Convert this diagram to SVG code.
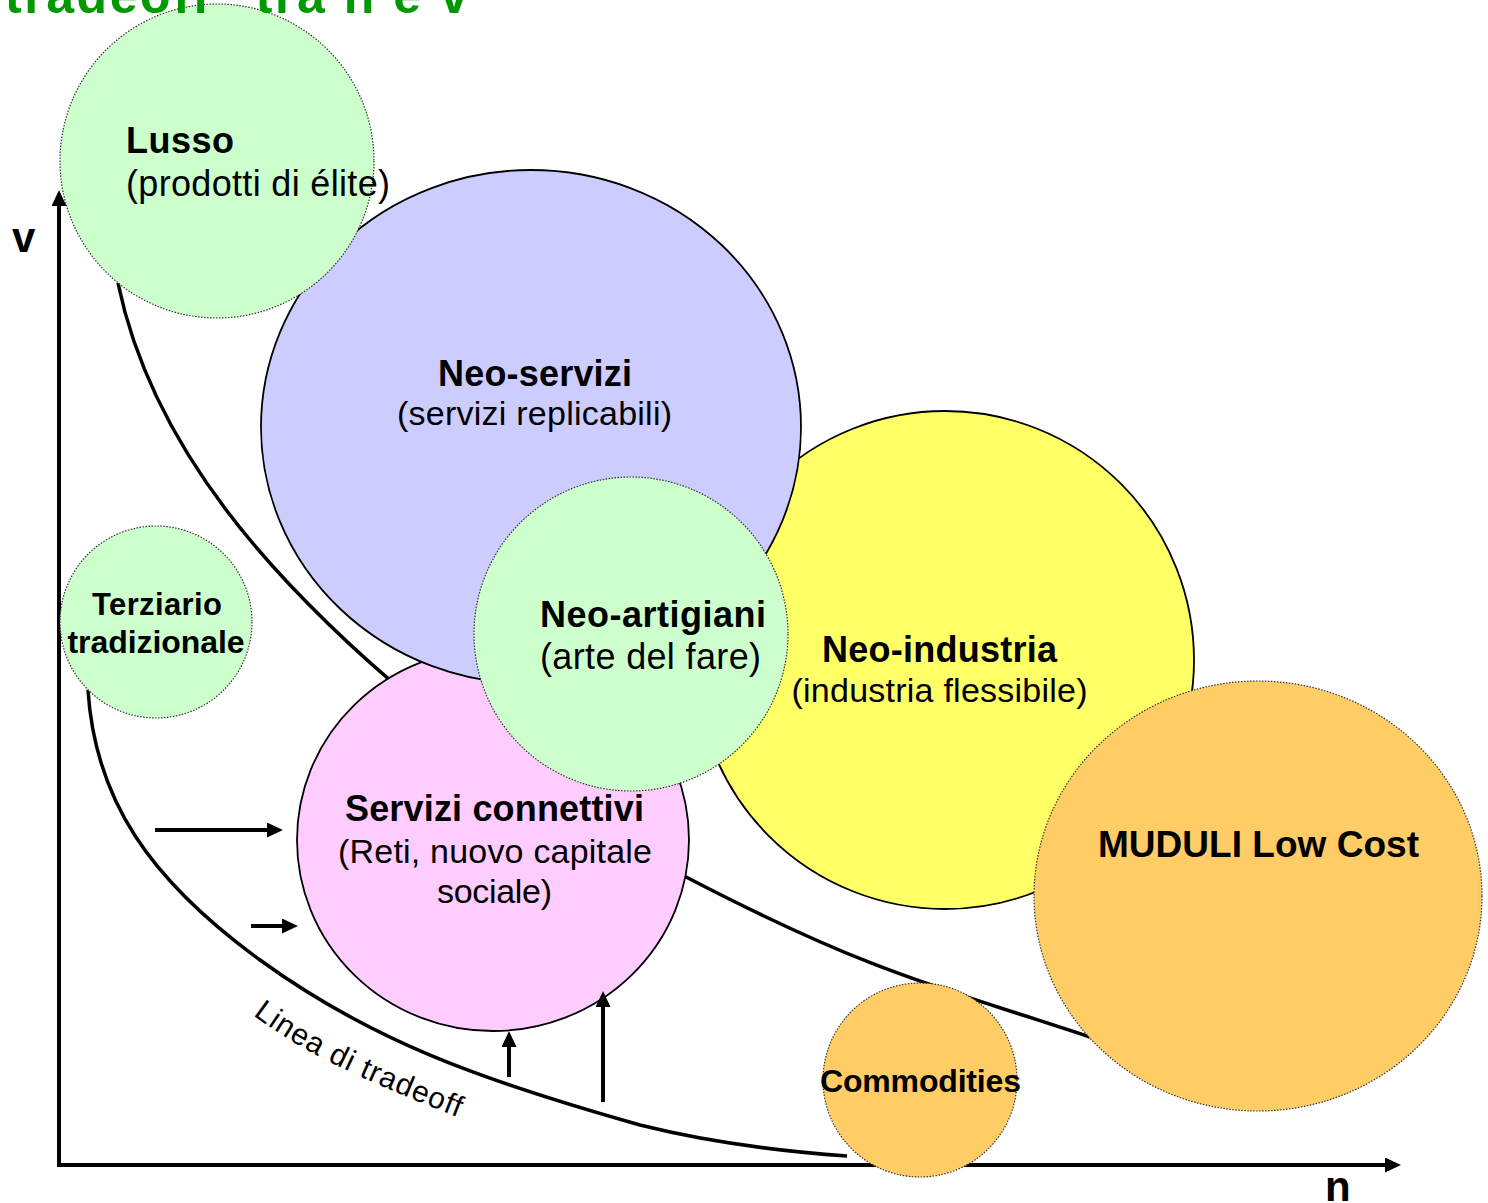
<svg xmlns="http://www.w3.org/2000/svg" width="1488" height="1203" viewBox="0 0 1488 1203">
<defs>
<style>
text{font-family:"Liberation Sans",Arial,sans-serif;fill:#000}
.b{font-weight:bold}
.c{text-anchor:middle}
.dot{stroke:#333;stroke-width:1.2;stroke-dasharray:1.5 1.5}
.sol{stroke:#000;stroke-width:1.8}
.curve{fill:none;stroke:#000;stroke-width:3.5}
.arr{fill:none;stroke:#000;stroke-width:4;marker-end:url(#ah)}
.green{fill:#CCFFCC}
.blue{fill:#CCCCFF}
.yellow{fill:#FFFF66}
.pink{fill:#FFCCFF}
.orange{fill:#FFCC66}
</style>
<marker id="ah" viewBox="0 0 16 15" markerWidth="16" markerHeight="15" refX="2" refY="7.5" orient="auto" markerUnits="userSpaceOnUse">
<path d="M0,0 L16,7.5 L0,15 z" fill="#000"/>
</marker>
<path id="tp" d="M 253 1015 C 290 1043, 340 1072, 465 1120"/>
</defs>
<rect width="1488" height="1203" fill="#fff"/>

<g id="axes">
<line class="arr" x1="59" y1="1167" x2="59" y2="204"/>
<line class="arr" x1="57" y1="1165" x2="1387" y2="1165"/>
</g>

<g id="curves">
<path class="curve" d="M 118 283 C 140 390, 200 490, 290 585 S 500 780, 688 878 S 950 990, 1090 1037"/>
<path class="curve" d="M 88 690 C 95 800, 150 880, 260 960 S 480 1080, 640 1125 C 720 1145, 790 1152, 847 1156"/>
<text font-size="30"><textPath href="#tp" textLength="230">Linea di tradeoff</textPath></text>
</g>

<g id="servizi-connettivi">
<ellipse class="pink sol" cx="493" cy="840" rx="196" ry="191"/>
<text class="b c" x="494.5" y="821" font-size="36" textLength="299">Servizi connettivi</text>
<text class="c" x="495" y="863" font-size="34" textLength="314">(Reti, nuovo capitale</text>
<text class="c" x="494.5" y="903" font-size="34" textLength="115">sociale)</text>
</g>

<g id="neo-industria">
<circle class="yellow sol" cx="945" cy="660" r="249"/>
<text class="b c" x="939.5" y="662" font-size="36" textLength="235">Neo-industria</text>
<text class="c" x="939.5" y="702" font-size="34" textLength="296">(industria flessibile)</text>
</g>

<g id="neo-servizi">
<ellipse class="blue sol" cx="531" cy="427" rx="270" ry="257"/>
<text class="b c" x="535" y="386" font-size="36" textLength="194">Neo-servizi</text>
<text class="c" x="534.5" y="425" font-size="34" textLength="275">(servizi replicabili)</text>
</g>

<g id="lusso">
<circle class="green dot" cx="217" cy="161" r="157"/>
<text class="b" x="126" y="153" font-size="36" textLength="108">Lusso</text>
<text x="126" y="196" font-size="36" textLength="264">(prodotti di élite)</text>
</g>

<g id="neo-artigiani">
<circle class="green dot" cx="631" cy="634" r="157"/>
<text class="b" x="540" y="627" font-size="36" textLength="226">Neo-artigiani</text>
<text x="540" y="669" font-size="36" textLength="221">(arte del fare)</text>
</g>

<g id="terziario">
<circle class="green dot" cx="156" cy="622" r="96"/>
<text class="b c" x="157" y="615" font-size="31" textLength="130">Terziario</text>
<text class="b c" x="156" y="653" font-size="32" textLength="177">tradizionale</text>
</g>

<g id="muduli">
<ellipse class="orange dot" cx="1258" cy="896" rx="224" ry="215"/>
<text class="b c" x="1258.5" y="857" font-size="37" textLength="321">MUDULI Low Cost</text>
</g>

<g id="commodities">
<circle class="orange dot" cx="920" cy="1080" r="97"/>
<text class="b c" x="920.5" y="1092" font-size="32" textLength="201">Commodities</text>
</g>

<g id="connectors">
<line class="arr" x1="155" y1="830" x2="269" y2="830"/>
<line class="arr" x1="251" y1="926" x2="284" y2="926"/>
<line class="arr" x1="509" y1="1077" x2="509" y2="1045"/>
<line class="arr" x1="603" y1="1102" x2="603" y2="1005"/>
</g>

<g id="labels">
<text class="b" x="12" y="252" font-size="42">v</text>
<text class="b" x="1325" y="1201" font-size="42">n</text>
<text class="b" x="5" y="13" font-size="50" textLength="463" style="fill:#009900">tradeoff” tra n e v</text>
</g>
</svg>
